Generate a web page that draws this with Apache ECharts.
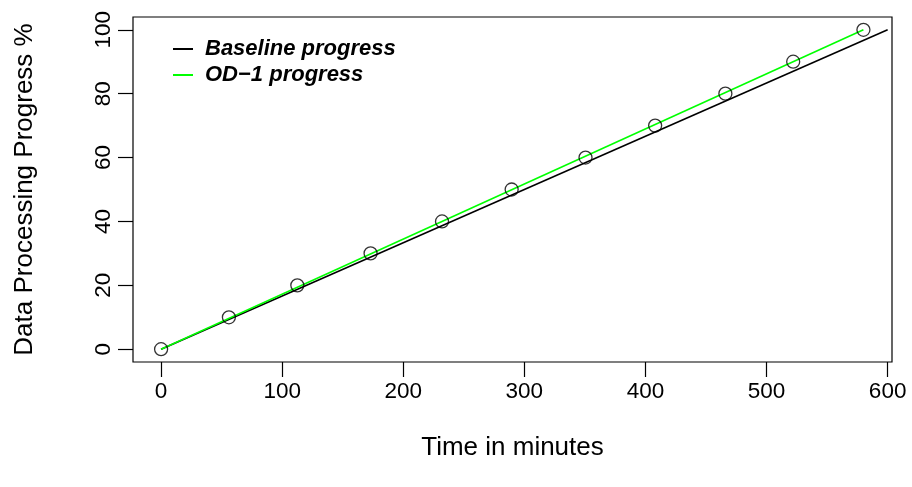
<!DOCTYPE html>
<html>
<head>
<meta charset="utf-8">
<script src="https://cdn.jsdelivr.net/npm/echarts@6/dist/echarts.min.js"></script>
<style>html,body{margin:0;padding:0;background:#fff}#c{width:912px;height:487px}</style>
</head>
<body>
<div id="c"></div>
<script>
const xTicks = [0, 100, 200, 300, 400, 500, 600];
const yTicks = [0, 20, 40, 60, 80, 100];
const baselineX = [0, 600];
const baselineY = [0, 100];
const od1X = [0, 580];
const od1Y = [0, 100];
const pointX = [0, 56, 112.5, 173, 232, 289.5, 350.5, 408, 466, 522, 580];
const pointY = [0, 10, 20, 30, 40, 50, 60, 70, 80, 90, 100];
const seriesNames = ['Baseline progress', 'OD\u22121 progress'];

const zip = (a, b) => a.map((v, i) => [v, b[i]]);
const FONT = 'Liberation Sans';
const chart = echarts.init(document.getElementById('c'), null, {renderer: 'canvas'});
chart.setOption({
  animation: false,
  backgroundColor: '#fff',
  grid: {left: 133, top: 17, right: 20, bottom: 125, show: true, borderColor: '#000', borderWidth: 1.2, backgroundColor: 'transparent'},
  legend: {
    data: seriesNames.map(n => ({name: n, icon: 'rect'})),
    orient: 'vertical', left: 173, top: 38, padding: 0, itemWidth: 20, itemHeight: 2, itemGap: 4,
    textStyle: {fontFamily: FONT, fontSize: 22, fontWeight: 'bold', fontStyle: 'italic', color: '#000', padding: [0, 0, 0, 7]}
  },
  xAxis: {
    type: 'value', min: -23.2, max: 603.6,
    axisLine: {show: false, onZero: false}, splitLine: {show: false},
    axisTick: {show: true, customValues: xTicks, length: 15, lineStyle: {color: '#000', width: 1.2}},
    axisLabel: {customValues: xTicks, margin: 18, fontFamily: FONT, fontSize: 22.5, color: '#000'},
    name: 'Time in minutes', nameLocation: 'middle', nameGap: 73,
    nameTextStyle: {fontFamily: FONT, fontSize: 26, color: '#000'}
  },
  yAxis: {
    type: 'value', min: -4, max: 104,
    axisLine: {show: false, onZero: false}, splitLine: {show: false},
    axisTick: {show: true, customValues: yTicks, length: 15, lineStyle: {color: '#000', width: 1.2}},
    axisLabel: {customValues: yTicks, rotate: 90, margin: 18, fontFamily: FONT, fontSize: 22.5, color: '#000'},
    name: 'Data Processing Progress %', nameLocation: 'middle', nameGap: 95, nameRotate: 90,
    nameTextStyle: {fontFamily: FONT, fontSize: 26, color: '#000'}
  },
  series: [
    {type: 'scatter', data: zip(pointX, pointY), symbol: 'circle', symbolSize: 13,
     itemStyle: {color: 'rgba(0,0,0,0)', borderColor: '#000', borderWidth: 1.3}, z: 3},
    {name: seriesNames[0], type: 'line', data: zip(baselineX, baselineY), showSymbol: false, symbol: 'none',
     lineStyle: {color: '#000', width: 1.6}, itemStyle: {color: '#000'}, z: 2},
    {name: seriesNames[1], type: 'line', data: zip(od1X, od1Y), showSymbol: false, symbol: 'none',
     lineStyle: {color: '#00ff00', width: 1.6}, itemStyle: {color: '#00ff00'}, z: 2}
  ]
});
</script>
</body>
</html>
